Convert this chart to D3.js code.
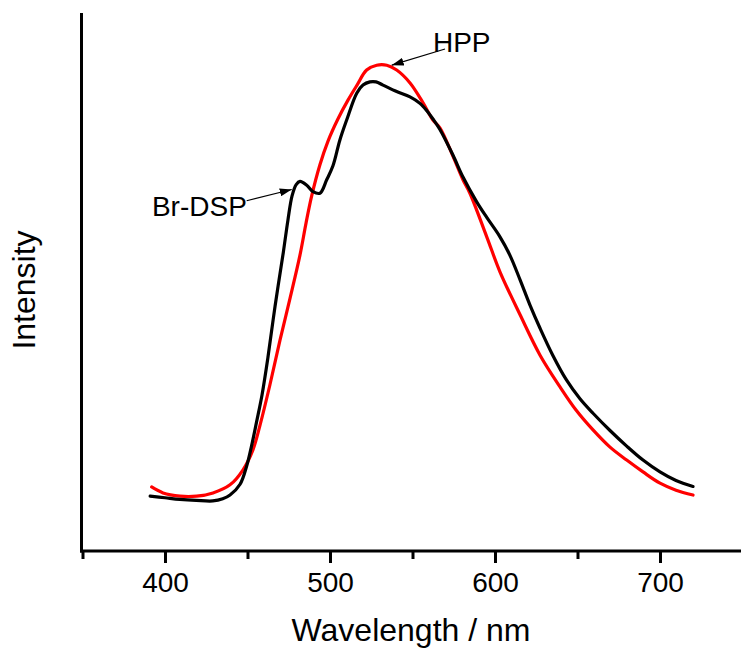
<!DOCTYPE html>
<html>
<head>
<meta charset="utf-8">
<script src="https://cdn.jsdelivr.net/npm/d3@7"></script>
<style>
  html, body { margin: 0; padding: 0; background: #fff; }
  svg { display: block; font-family: "Liberation Sans", Arial, sans-serif; }
</style>
</head>
<body>
<svg id="chart" width="741" height="648"></svg>
<script>
// ---- data (wavelength in nm, intensity in arbitrary units) ----
const brdspWavelength = [391, 400, 409, 419, 429, 435, 439.4, 445.5, 449.5, 452.5, 455.5, 458.8, 462.4, 466.7, 471.7, 474.5, 477, 479.5, 481.8, 485.9, 489.7, 493.9, 498, 501.8, 506, 510.1, 516.2, 520, 524.2, 527.9, 532.1, 540.4, 548.5, 554.5, 558.8, 562.4, 566.7, 574.5, 580.6, 588.9, 595, 603, 609, 615.2, 621.2, 627.3, 635, 643.3, 651.5, 659.4, 669.7, 679.8, 689.7, 700, 709.7, 720];
const brdspIntensity  = [10.2, 9.9, 9.6, 9.4, 9.3, 9.7, 10.4, 12.4, 15.8, 19.6, 24.0, 29.0, 36.0, 45.5, 55.5, 61.5, 66.0, 68.1, 68.7, 68.0, 66.8, 66.5, 69.0, 71.6, 76.4, 80.1, 85.1, 86.6, 87.2, 87.2, 86.6, 85.4, 84.4, 83.2, 81.8, 80.3, 78.3, 73.6, 69.5, 64.9, 62.0, 58.4, 55.0, 50.4, 45.7, 41.4, 36.4, 31.8, 28.3, 25.6, 22.4, 19.5, 16.9, 14.7, 13.1, 12.0];

const hppWavelength = [391.9, 398.8, 409.1, 419.2, 429.1, 439.4, 447.3, 453.3, 457.6, 463.6, 469.7, 475.8, 481.8, 485.5, 488.9, 493.9, 498.8, 504.8, 510.9, 516.4, 522.2, 528.3, 534.4, 540.4, 548.5, 556.4, 562.4, 566.7, 574.5, 580.6, 584.8, 595, 603, 615.2, 627.3, 639.4, 649.1, 659.4, 669.7, 679.8, 689.7, 700, 709.7, 720];
const hppIntensity  = [11.9, 10.8, 10.2, 10.2, 10.8, 12.3, 15.1, 18.8, 23.4, 30.9, 39.2, 47.0, 55.0, 61.0, 66.0, 71.8, 76.2, 80.3, 83.8, 86.6, 89.4, 90.3, 90.3, 89.4, 87.0, 83.3, 80.1, 78.6, 73.4, 69.0, 66.5, 58.4, 51.9, 43.9, 36.4, 30.5, 26.2, 22.5, 19.3, 16.9, 14.7, 12.6, 11.3, 10.4];

const majorTicks = [400, 500, 600, 700];
const minorTicks = [350, 450, 550, 650, 750];
const xDomain = [350, 750];
const yDomain = [0, 100];

// annotations: [label, text-anchor point (nm, a.u.), arrow tail, arrow tip]
const annotations = [
  { label: "Br-DSP", anchor: "end",   text: [449.6, 62.3], tail: [449.5, 65.1], tip: [476.8, 67.2] },
  { label: "HPP",    anchor: "start", text: [562.4, 92.7], tail: [569.7, 93.3], tip: [537.4, 90.3] }
];

const series = [
  { name: "Br-DSP", x: brdspWavelength, y: brdspIntensity, color: "#000000" },
  { name: "HPP",    x: hppWavelength,   y: hppIntensity,   color: "#ff0000" }
];

// ---- drawing ----
const svg = d3.select("#chart");
svg.append("rect").attr("width", 741).attr("height", 648).attr("fill", "#fff");

const x = d3.scaleLinear().domain(xDomain).range([82.5, 742.5]);
const y = d3.scaleLinear().domain(yDomain).range([551, 13]);

const line = d3.line().x(d => x(d[0])).y(d => y(d[1])).curve(d3.curveCatmullRom.alpha(0.5));

function drawSeries(s) {
  const pts = s.x.map((v, i) => [v, s.y[i]]);
  svg.append("path")
    .datum(pts)
    .attr("d", line)
    .attr("fill", "none")
    .attr("stroke", s.color)
    .attr("stroke-width", 3.2)
    .attr("stroke-linejoin", "round")
    .attr("stroke-linecap", "round");
}
drawSeries(series[1]);
drawSeries(series[0]);

// axes
const axisG = svg.append("g").attr("transform", "translate(0,551)");
axisG.call(d3.axisBottom(x).tickValues(majorTicks).tickSize(12).tickPadding(9).tickSizeOuter(0));
axisG.select(".domain").remove();
axisG.selectAll(".tick line").attr("stroke", "#000").attr("stroke-width", 3);
axisG.selectAll(".tick text").attr("font-size", 28).attr("fill", "#000")
  .attr("font-family", "'Liberation Sans', Arial, sans-serif");

const minorG = svg.append("g").attr("transform", "translate(0,551)");
minorG.call(d3.axisBottom(x).tickValues(minorTicks).tickSize(8).tickFormat("").tickSizeOuter(0));
minorG.select(".domain").remove();
minorG.selectAll(".tick line").attr("stroke", "#000").attr("stroke-width", 3);

// axis lines
svg.append("line").attr("x1", 80).attr("x2", 743).attr("y1", 551).attr("y2", 551)
  .attr("stroke", "#000").attr("stroke-width", 3);
svg.append("line").attr("x1", 81.5).attr("x2", 81.5).attr("y1", y(yDomain[1])).attr("y2", 552.5)
  .attr("stroke", "#000").attr("stroke-width", 3);

// axis titles
svg.append("text").attr("x", 411).attr("y", 641).attr("text-anchor", "middle")
  .attr("font-size", 32).attr("fill", "#000").text("Wavelength / nm");
svg.append("text").attr("transform", "translate(35,290) rotate(-90)").attr("text-anchor", "middle")
  .attr("font-size", 32).attr("fill", "#000").text("Intensity");

// annotations
const defs = svg.append("defs");
defs.append("marker").attr("id", "arrowhead")
  .attr("viewBox", "0 0 12 8").attr("refX", 12).attr("refY", 4)
  .attr("markerWidth", 12).attr("markerHeight", 8).attr("markerUnits", "userSpaceOnUse")
  .attr("orient", "auto")
  .append("path").attr("d", "M0,0 L12,4 L0,8 Z").attr("fill", "#000");

annotations.forEach(a => {
  svg.append("line")
    .attr("x1", x(a.tail[0])).attr("y1", y(a.tail[1]))
    .attr("x2", x(a.tip[0])).attr("y2", y(a.tip[1]))
    .attr("stroke", "#000").attr("stroke-width", 1.2)
    .attr("marker-end", "url(#arrowhead)");
  svg.append("text")
    .attr("x", x(a.text[0])).attr("y", y(a.text[1]))
    .attr("text-anchor", a.anchor)
    .attr("font-size", 28).attr("fill", "#000").text(a.label);
});
</script>
</body>
</html>
